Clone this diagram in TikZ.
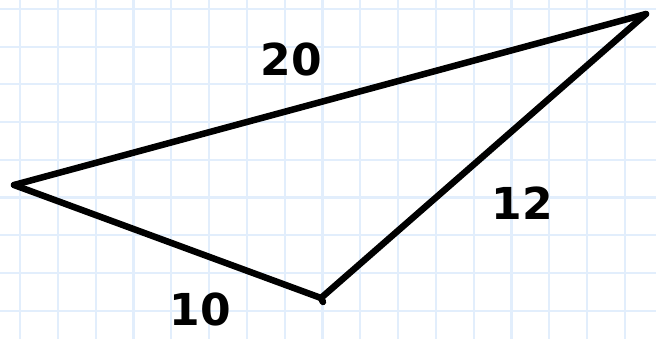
\documentclass[tikz,border=0pt]{standalone}
\usepackage{fontspec}
\newfontfamily\handfont{DejaVu Sans}
\usepackage{tikz}
\definecolor{gridblue}{RGB}{226,238,252}

\begin{document}
\begin{tikzpicture}[
    x=1pt, y=-1pt,
    gridline/.style={draw=gridblue, line width=2.2pt},
    side/.style={draw=black, line width=6.5pt, line cap=round, line join=round},
    lbl/.style={font=\handfont\bfseries\fontsize{44}{44}\selectfont, inner sep=0pt, text=black}
  ]
  \useasboundingbox (0,0) rectangle (656,339);
  \fill[white] (0,0) rectangle (656,339);

  % Grid paper
  \foreach \i in {0,...,16}
    \draw[gridline] (20+37.8*\i,0) -- (20+37.8*\i,339);
  \foreach \j in {0,...,8}
    \draw[gridline] (0,9+37.7*\j) -- (656,9+37.7*\j);

  % Triangle corners
  \coordinate (left) at (14,185);
  \coordinate (bottom) at (321,298);
  \coordinate (top) at (646,14);

  % Sides
  \draw[side] (left) -- (top);
  \draw[side] (left) -- (bottom);
  \draw[side] (bottom) -- (top);
  \draw[side] (bottom) -- ++(2,4);

  % Side lengths
  \node[lbl] (len20) at (291,59) {20};
  \node[lbl] (len12) at (522,203) {12};
  \node[lbl] (len10) at (200,309) {10};

\end{tikzpicture}
\end{document}
